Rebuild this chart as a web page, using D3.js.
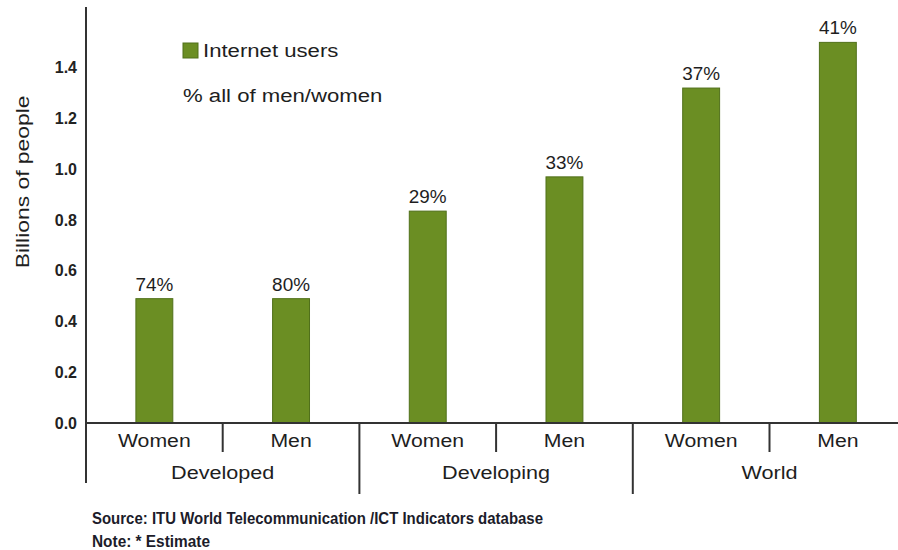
<!DOCTYPE html>
<html>
<head>
<meta charset="utf-8">
<script src="https://cdn.jsdelivr.net/npm/d3@7"></script>
<style>
  html, body { margin: 0; padding: 0; background: #fff; }
  svg { display: block; }
  text { font-family: "Liberation Sans", Arial, Helvetica, sans-serif; fill: #1e1e1e; }
</style>
</head>
<body>
<svg id="chart" width="898" height="550"></svg>
<script>
// Internet users by sex and development status (billions of people)
const groups = ["Developed", "Developing", "World"];
const sexes = ["Women", "Men"];
const users = [0.49, 0.49, 0.835, 0.97, 1.32, 1.50];
const shareLabels = ["74%", "80%", "29%", "33%", "37%", "41%"];
const yTicks = [0, 0.2, 0.4, 0.6, 0.8, 1.0, 1.2, 1.4];
const legendLabels = ["Internet users", "% all of men/women"];
const footnotes = ["Source:  ITU World Telecommunication /ICT Indicators database", "Note: * Estimate"];

const rows = [];
groups.forEach((g, gi) => sexes.forEach((s, si) => {
  const i = gi * sexes.length + si;
  rows.push({ key: g + "|" + s, group: g, sex: s, value: users[i], label: shareLabels[i] });
}));

const W = 898, H = 550;
const left = 86, base = 423;
const barColor = "#6b8e23", barEdge = "#50701a", ink = "#333";

const svg = d3.select("#chart");

// widen text horizontally by factor k (the typeface is broader than Arial)
function stretch(sel, k) {
  sel.each(function () {
    const w = this.getComputedTextLength();
    d3.select(this).attr("textLength", w * k).attr("lengthAdjust", "spacingAndGlyphs");
  });
  return sel;
}

const x = d3.scaleBand().domain(rows.map(d => d.key)).range([left, left + 6 * 136.7]).padding(0);
const y = d3.scaleLinear().domain([0, 1.6]).range([base, 17]);
const barW = x.bandwidth() * 0.27;

// y axis labels (no tick marks)
const yAxis = d3.axisLeft(y).tickValues(yTicks).tickFormat(d3.format(".1f")).tickSize(0).tickPadding(9);
const gy = svg.append("g").attr("transform", `translate(${left},0)`).call(yAxis);
gy.select(".domain").remove();
gy.selectAll("text")
  .style("font-family", '"Liberation Sans", Arial, sans-serif')
  .style("font-size", "16px").style("font-weight", "bold").style("fill", "#222");

// y axis title
stretch(svg.append("text")
  .attr("transform", `translate(29,${(y(1.45) + y(0.45)) / 2}) rotate(-90)`)
  .attr("text-anchor", "middle")
  .style("font-size", "18px")
  .text("Billions of people"), 1.27);

// bars
svg.append("g").selectAll("rect").data(rows).join("rect")
  .attr("x", d => x(d.key) + (x.bandwidth() - barW) / 2)
  .attr("y", d => y(d.value))
  .attr("width", barW)
  .attr("height", d => y(0) - y(d.value))
  .attr("fill", barColor)
  .attr("stroke", barEdge).attr("stroke-width", 1);

// value labels
stretch(svg.append("g").selectAll("text").data(rows).join("text")
  .attr("x", d => x(d.key) + x.bandwidth() / 2)
  .attr("y", d => y(d.value) - 8)
  .attr("text-anchor", "middle")
  .style("font-size", "18px")
  .style("font-weight", 500)
  .text(d => d.label), 1.05);

// axis lines
svg.append("line").attr("x1", left).attr("x2", W).attr("y1", base).attr("y2", base)
  .attr("stroke", ink).attr("stroke-width", 2);
svg.append("line").attr("x1", left).attr("x2", left).attr("y1", 7).attr("y2", 483)
  .attr("stroke", ink).attr("stroke-width", 2);

// category dividers: short between sexes, long between groups
rows.forEach((d, i) => {
  if (i === 0) return;
  const isGroupEdge = i % sexes.length === 0;
  svg.append("line")
    .attr("x1", x(d.key)).attr("x2", x(d.key))
    .attr("y1", base).attr("y2", isGroupEdge ? 494 : 452)
    .attr("stroke", ink).attr("stroke-width", 2);
});

// sex labels
stretch(svg.append("g").selectAll("text").data(rows).join("text")
  .attr("x", d => x(d.key) + x.bandwidth() / 2)
  .attr("y", 447)
  .attr("text-anchor", "middle")
  .style("font-size", "18px")
  .text(d => d.sex), 1.18);

// group labels
stretch(svg.append("g").selectAll("text").data(groups).join("text")
  .attr("x", g => (x(g + "|" + sexes[0]) + x(g + "|" + sexes[1]) + x.bandwidth()) / 2)
  .attr("y", 479)
  .attr("text-anchor", "middle")
  .style("font-size", "18px")
  .text(g => g), 1.2);

// legend
svg.append("rect").attr("x", 183).attr("y", 43).attr("width", 15).attr("height", 15)
  .attr("fill", barColor).attr("stroke", barEdge).attr("stroke-width", 1);
stretch(svg.append("text").attr("x", 203).attr("y", 57).style("font-size", "18px").text(legendLabels[0]), 1.23);
stretch(svg.append("text").attr("x", 183).attr("y", 102).style("font-size", "18px").text(legendLabels[1]), 1.23);

// footnotes
const footTargets = [451, 118];
svg.append("g").selectAll("text").data(footnotes).join("text")
  .attr("x", 92)
  .attr("y", (d, i) => 524 + i * 23)
  .style("font-family", '"Liberation Sans Narrow", "Arial Narrow", "Liberation Sans", sans-serif')
  .style("font-stretch", "condensed")
  .style("font-weight", "bold")
  .style("font-size", "17px")
  .style("fill", "#1c1c2a")
  .text(d => d)
  .each(function (d, i) {
    d3.select(this).attr("textLength", footTargets[i]).attr("lengthAdjust", "spacingAndGlyphs");
  });
</script>
</body>
</html>
